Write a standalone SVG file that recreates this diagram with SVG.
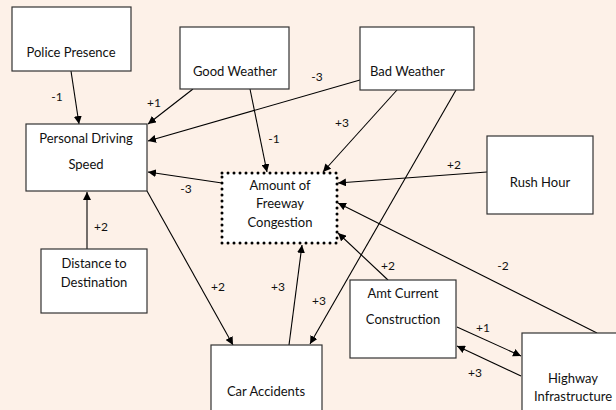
<svg xmlns="http://www.w3.org/2000/svg" width="616" height="410" viewBox="0 0 616 410">
<defs>
<marker id="ah" viewBox="0 0 10 10" refX="10" refY="5" markerWidth="8" markerHeight="8" markerUnits="userSpaceOnUse" orient="auto">
<path d="M0,0 L10,5 L0,10 z" fill="#000"/>
</marker>
</defs>
<style>
.box{fill:#fff;stroke:#333;stroke-width:1.2}
.dot{fill:#fff;stroke:#000;stroke-width:3;stroke-linecap:round;stroke-dasharray:0 6}
.t{font-family:Lato,"Open Sans",sans-serif;font-size:13px;fill:#111;text-anchor:middle}
.l{font-family:Lato,"Open Sans",sans-serif;font-size:12px;fill:#111;text-anchor:middle}
.c{stroke:#000;stroke-width:1.1;fill:none;marker-end:url(#ah)}
</style>
<rect width="616" height="410" fill="#fdf1e8"/>
<g id="connectors">
<line class="c" x1="71" y1="71" x2="79" y2="124"/>
<line class="c" x1="193" y1="89" x2="148" y2="124"/>
<line class="c" x1="360" y1="80" x2="148" y2="141"/>
<line class="c" x1="250" y1="89" x2="267" y2="172"/>
<line class="c" x1="222" y1="183" x2="148" y2="172"/>
<line class="c" x1="397" y1="90" x2="323" y2="172"/>
<line class="c" x1="456" y1="90" x2="310" y2="344"/>
<line class="c" x1="487" y1="172" x2="338" y2="183"/>
<line class="c" x1="87" y1="249" x2="87" y2="192"/>
<line class="c" x1="147" y1="191" x2="233" y2="345"/>
<line class="c" x1="289" y1="345" x2="302" y2="245"/>
<line class="c" x1="388" y1="280" x2="338" y2="233"/>
<line class="c" x1="597" y1="333" x2="338" y2="203"/>
<line class="c" x1="457" y1="327" x2="521" y2="356"/>
<line class="c" x1="521" y1="376" x2="457" y2="346"/>
<text class="l" x="57" y="101">-1</text>
<text class="l" x="154" y="107">+1</text>
<text class="l" x="317" y="81">-3</text>
<text class="l" x="274" y="143">-1</text>
<text class="l" x="186" y="193">-3</text>
<text class="l" x="342" y="127">+3</text>
<text class="l" x="319" y="305">+3</text>
<text class="l" x="454" y="169">+2</text>
<text class="l" x="101" y="231">+2</text>
<text class="l" x="218" y="291">+2</text>
<text class="l" x="278" y="291">+3</text>
<text class="l" x="388" y="270">+2</text>
<text class="l" x="503" y="270">-2</text>
<text class="l" x="483" y="332">+1</text>
<text class="l" x="475" y="377">+3</text>
</g>
<g id="police">
<rect class="box" x="12" y="7" width="119" height="64"/>
<text class="t" x="71" y="57">Police Presence</text>
</g>
<g id="good-weather">
<rect class="box" x="180" y="27" width="109" height="62"/>
<text class="t" x="235" y="76">Good Weather</text>
</g>
<g id="bad-weather">
<rect class="box" x="360" y="27" width="114" height="63"/>
<text class="t" x="370" y="76" style="text-anchor:start">Bad Weather</text>
</g>
<g id="speed">
<rect class="box" x="26" y="124" width="121" height="67"/>
<text class="t" x="86" y="143">Personal Driving</text>
<text class="t" x="86" y="169">Speed</text>
</g>
<g id="congestion">
<rect class="dot" x="222" y="173" width="115" height="70"/>
<text class="t" x="280" y="190">Amount of</text>
<text class="t" x="280" y="208">Freeway</text>
<text class="t" x="280" y="227">Congestion</text>
</g>
<g id="rush-hour">
<rect class="box" x="487" y="136" width="106" height="78"/>
<text class="t" x="540" y="187">Rush Hour</text>
</g>
<g id="distance">
<rect class="box" x="41" y="249" width="106" height="64"/>
<text class="t" x="94" y="268">Distance to</text>
<text class="t" x="94" y="287">Destination</text>
</g>
<g id="car-accidents">
<rect class="box" x="211" y="345" width="111" height="80"/>
<text class="t" x="266" y="396">Car Accidents</text>
</g>
<g id="construction">
<rect class="box" x="350" y="280" width="106" height="78"/>
<text class="t" x="403" y="298">Amt Current</text>
<text class="t" x="403" y="324">Construction</text>
</g>
<g id="highway">
<rect class="box" x="522" y="333" width="110" height="90"/>
<text class="t" x="573" y="383">Highway</text>
<text class="t" x="573" y="401">Infrastructure</text>
</g>
</svg>
